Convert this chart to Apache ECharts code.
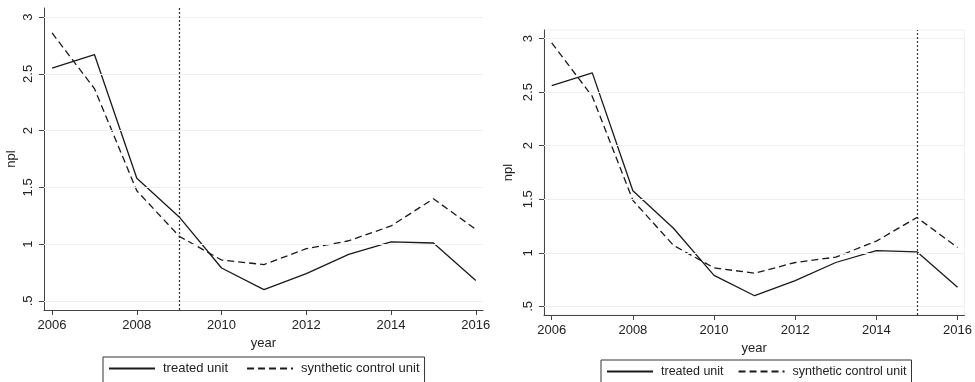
<!DOCTYPE html>
<html><head><meta charset="utf-8">
<script src="https://cdn.jsdelivr.net/npm/echarts@6/dist/echarts.min.js"></script>
<style>html,body{margin:0;padding:0;background:#fff}#c{width:975px;height:382px}</style>
</head><body><div id="c"></div>
<script>
const years = [2006,2007,2008,2009,2010,2011,2012,2013,2014,2015,2016];
const treatedA = [2.55,2.67,1.58,1.24,0.79,0.60,0.74,0.91,1.02,1.01,0.68];
const synthA   = [2.86,2.37,1.47,1.07,0.86,0.82,0.96,1.03,1.16,1.40,1.13];
const treatedB = [2.56,2.68,1.58,1.23,0.79,0.60,0.74,0.91,1.02,1.01,0.68];
const synthB   = [2.96,2.46,1.49,1.07,0.86,0.81,0.91,0.96,1.11,1.33,1.05];
const xTicks = [2006,2008,2010,2012,2014,2016];
const yTicks = [0.5,1,1.5,2,2.5,3];
const treatYearA = 2009, treatYearB = 2015;
const seriesNames = ['treated unit','synthetic control unit'];

const FONT = 'Liberation Sans, Arial, sans-serif';
const ink = '#222';
function pairs(v){ return years.map((y,i)=>[y,v[i]]); }
function xAxis(gi){
  return {type:'value', gridIndex:gi, min:2005.81, max:2016.17,
    name:'year', nameLocation:'middle', nameGap:24,
    nameTextStyle:{fontFamily:FONT,fontSize:13,color:ink},
    axisLine:{lineStyle:{color:'#444',width:1}},
    axisTick:{customValues:xTicks, length:5, lineStyle:{color:'#444'}},
    axisLabel:{customValues:xTicks, margin:9, fontFamily:FONT, fontSize:13, color:ink, formatter:v=>String(v)},
    splitLine:{show:false}};
}
function yAxis(gi,gap){
  return {type:'value', gridIndex:gi, min:0.42, max:3.08,
    name:'npl', nameLocation:'middle', nameGap:gap, nameRotate:90,
    nameTextStyle:{fontFamily:FONT,fontSize:13,color:ink},
    axisLine:{show:true,lineStyle:{color:'#444',width:1}},
    axisTick:{show:true,customValues:yTicks,length:5,lineStyle:{color:'#444'}},
    axisLabel:{customValues:yTicks, rotate:90, margin:9, fontFamily:FONT, fontSize:13, color:ink,
      formatter:v=> v===0.5?'.5':String(v)},
    splitLine:{show:false}};
}
function gridLines(){
  return {silent:true, symbol:'none', label:{show:false},
    lineStyle:{color:'#e8f1f3',type:'solid',width:1},
    data: yTicks.map(v=>({yAxis:v}))};
}
function mk(gi,name,vals,dashed){
  return {type:'line', name:name, xAxisIndex:gi, yAxisIndex:gi, data:pairs(vals),
    symbol:'none', showSymbol:false, animation:false,
    lineStyle:{color:'#1a1a1a', width:1.3, type: dashed?[7,4]:'solid'},
    itemStyle:{color:'#1a1a1a'}};
}
const series = [
  {type:'line', xAxisIndex:0, yAxisIndex:0, data:[], markLine:gridLines(), z:1},
  {type:'line', xAxisIndex:1, yAxisIndex:1, data:[], markLine:gridLines(), z:1},
  mk(0,seriesNames[0],treatedA,false),
  mk(0,seriesNames[1],synthA,true),
  mk(1,seriesNames[0],treatedB,false),
  mk(1,seriesNames[1],synthB,true),
  {type:'line', xAxisIndex:0, yAxisIndex:0, data:[], markLine:{silent:true,symbol:'none',label:{show:false},
    lineStyle:{color:'#333',type:[2,2],width:1.2}, data:[{xAxis:treatYearA}]}},
  {type:'line', xAxisIndex:1, yAxisIndex:1, data:[], markLine:{silent:true,symbol:'none',label:{show:false},
    lineStyle:{color:'#333',type:[2,2],width:1.2}, data:[{xAxis:treatYearB}]}}
];
function legend(left,top,gap,fs){
  return {left:left, top:top, data:seriesNames, itemWidth:46, itemHeight:10, itemGap:gap,
    padding:[5,5,10,5], borderColor:'#333', borderWidth:1, borderRadius:0,
    itemStyle:{opacity:0},
    textStyle:{fontFamily:FONT,fontSize:fs,color:ink, padding:[0,0,0,3]}, selectedMode:false};
}
const chart = echarts.init(document.getElementById('c'), null, {renderer:'canvas'});
chart.setOption({
  animation:false, backgroundColor:'#fff',
  grid:[{left:44, top:8, right:492, bottom:72, containLabel:false},
        {left:544, top:30, right:6, bottom:67, containLabel:false, show:true, borderColor:'#e8f1f3', borderWidth:1}],
  xAxis:[xAxis(0), xAxis(1)],
  yAxis:[yAxis(0,26), yAxis(1,29)],
  legend:[legend(103,357,18,13), legend(601,360,14,12.5)],
  series:series
});
</script></body></html>
